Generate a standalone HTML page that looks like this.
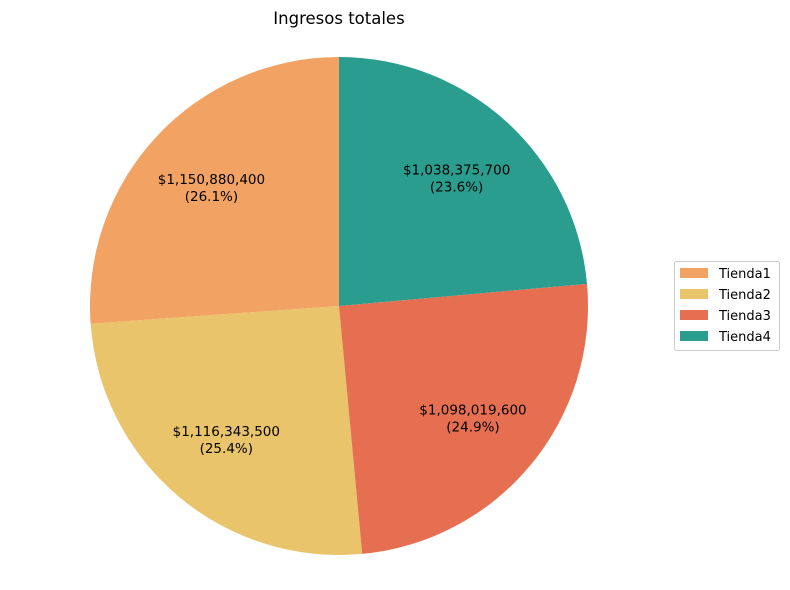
<!DOCTYPE html>
<html><head><meta charset="utf-8"><style>
body{margin:0;background:#fff;}
svg{display:block;font-family:"DejaVu Sans","Liberation Sans",sans-serif;}
</style></head><body>
<svg id="chart" width="790" height="590" viewBox="0 0 790 590">
<text x="339" y="24" text-anchor="middle" font-size="16.5">Ingresos totales</text>
<g id="slices"></g>
<g id="labels"></g>
<g id="legend"></g>
</svg>
<script>
const categories = ["Tienda1","Tienda2","Tienda3","Tienda4"];
const values = [1150880400,1116343500,1098019600,1038375700];
const colors = ["#F2A262","#E9C46A","#E76F51","#2A9D8F"];
const NS="http://www.w3.org/2000/svg";
const cx=339, cy=306, R=249;
const total=values.reduce((a,b)=>a+b,0);
const sl=document.getElementById('slices'), lb=document.getElementById('labels'), lg=document.getElementById('legend');
function pt(a,r){return [cx+r*Math.cos(a), cy-r*Math.sin(a)];}
let ang=Math.PI/2;
values.forEach((v,i)=>{
  const sweep=v/total*2*Math.PI;
  const a0=ang, a1=ang+sweep;
  const p0=pt(a0,R), p1=pt(a1,R);
  const large=sweep>Math.PI?1:0;
  const path=document.createElementNS(NS,'path');
  path.setAttribute('d',`M${cx},${cy} L${p0[0]},${p0[1]} A${R},${R} 0 ${large} 0 ${p1[0]},${p1[1]} Z`);
  path.setAttribute('fill',colors[i]);
  
  
  sl.appendChild(path);
  const m=(a0+a1)/2, lp=pt(m,R*0.7);
  const t=document.createElementNS(NS,'text');
  t.setAttribute('x',lp[0]); t.setAttribute('text-anchor','middle'); t.setAttribute('font-size','13.5');
  
  
  const s1=document.createElementNS(NS,'tspan'); s1.setAttribute('x',lp[0]); s1.setAttribute('y',lp[1]-3);
  s1.textContent='$'+v.toLocaleString('en-US');
  const s2=document.createElementNS(NS,'tspan'); s2.setAttribute('x',lp[0]); s2.setAttribute('y',lp[1]+14);
  s2.textContent='('+(v/total*100).toFixed(1)+'%)';
  t.appendChild(s1); t.appendChild(s2); lb.appendChild(t);
  ang=a1;
});
const box=document.createElementNS(NS,'rect');
box.setAttribute('x',674.5);box.setAttribute('y',261.5);box.setAttribute('width',105);box.setAttribute('height',89);box.setAttribute('rx',2);
box.setAttribute('fill','#fff');box.setAttribute('stroke','#ccc');


lg.appendChild(box);
categories.forEach((c,i)=>{
  const y=268+i*21;
  const r=document.createElementNS(NS,'rect');
  r.setAttribute('x',680);r.setAttribute('y',y);r.setAttribute('width',28);r.setAttribute('height',10);r.setAttribute('fill',colors[i]);
  
  
  lg.appendChild(r);
  const t=document.createElementNS(NS,'text');
  t.setAttribute('x',719);t.setAttribute('y',y+10);t.setAttribute('font-size','13');t.textContent=c;
  
  
  lg.appendChild(t);
});
</script>
</body></html>
